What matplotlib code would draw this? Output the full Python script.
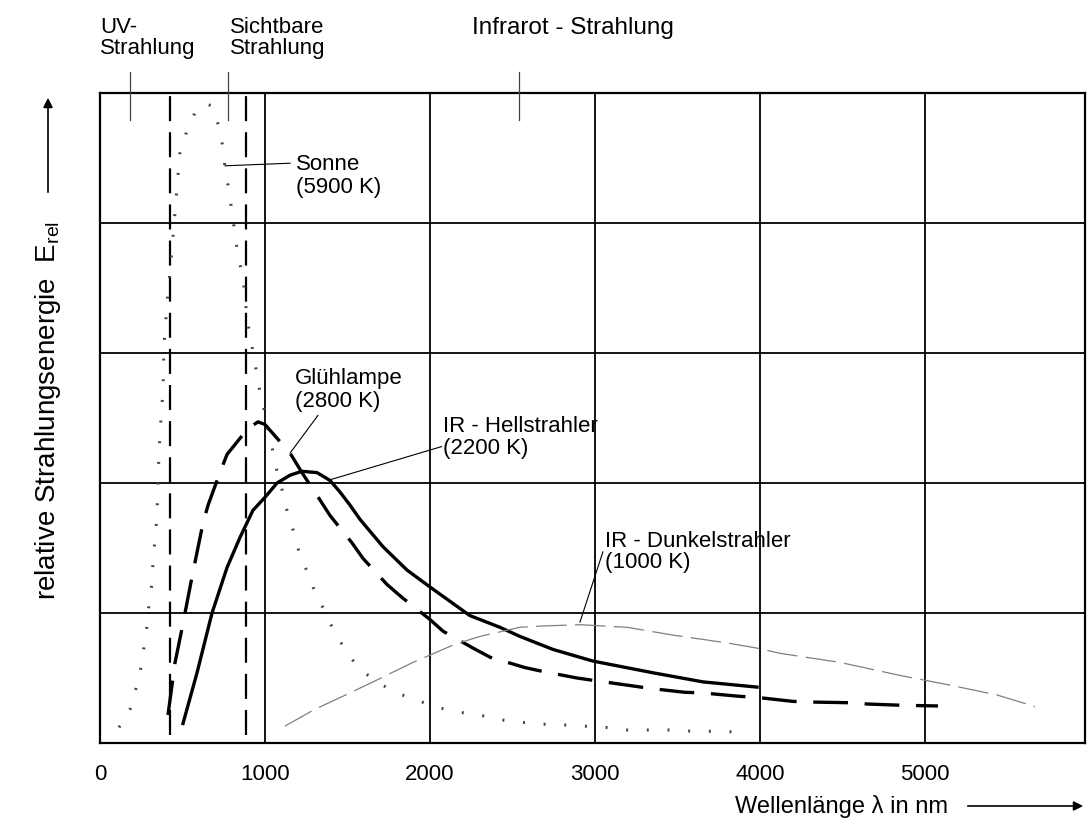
import matplotlib
matplotlib.use("Agg")
import matplotlib.pyplot as plt

plt.rcParams['font.family'] = ['Liberation Sans', 'DejaVu Sans']
plt.rcParams['mathtext.fontset'] = 'custom'
plt.rcParams['mathtext.rm'] = 'Liberation Sans'
plt.rcParams['lines.scale_dashes'] = False

# ---- data (wavelength in nm, relative energy) ----
sonne_x = [115, 182, 218, 248, 267, 285, 297, 315, 321, 333, 345, 352, 364, 382, 388, 406, 436, 473, 485, 527,
           576, 636, 679, 721, 745, 758, 782, 800, 818, 836, 867, 891, 915, 939, 958, 988, 1042, 1067, 1103, 1133,
           1170, 1206, 1255, 1303, 1364, 1418, 1485, 1564, 1667, 1788, 1897, 2030, 2152, 2285, 2418, 2545, 2679,
           2800, 2933, 3067, 3194, 3327, 3461, 3594, 3727, 3850]
sonne_y = [0.12, 0.26, 0.42, 0.58, 0.74, 0.90, 1.07, 1.23, 1.39, 1.57, 1.73, 2.06, 2.39, 2.72, 3.06, 3.38, 3.79,
           4.37, 4.55, 4.71, 4.85, 4.92, 4.90, 4.74, 4.58, 4.42, 4.25, 4.08, 3.92, 3.75, 3.58, 3.27, 3.09, 2.93,
           2.77, 2.60, 2.28, 2.12, 1.95, 1.79, 1.64, 1.47, 1.32, 1.16, 1.01, 0.86, 0.72, 0.58, 0.48, 0.39, 0.34,
           0.28, 0.24, 0.22, 0.18, 0.16, 0.145, 0.14, 0.13, 0.12, 0.10, 0.10, 0.10, 0.09, 0.09, 0.085]

gluehlampe_x = [412, 455, 497, 558, 624, 655, 727, 770, 897, 958, 1000, 1152, 1224, 1333, 1394, 1527, 1594, 1739,
                1830, 2000, 2079, 2261, 2364, 2576, 2685, 2891, 3000, 3224, 3333, 3545, 3655, 3867, 3988, 4200,
                4315, 4533, 4648, 4861, 5079]
gluehlampe_y = [0.215, 0.62, 0.88, 1.28, 1.69, 1.83, 2.08, 2.22, 2.42, 2.47, 2.45, 2.23, 2.08, 1.87, 1.75, 1.54,
                1.42, 1.22, 1.12, 0.95, 0.86, 0.73, 0.66, 0.58, 0.55, 0.50, 0.48, 0.44, 0.42, 0.39, 0.385, 0.36,
                0.35, 0.32, 0.315, 0.31, 0.30, 0.29, 0.285]

hell_x = [503, 588, 679, 770, 848, 927, 1000, 1073, 1152, 1224, 1315, 1394, 1455, 1515, 1576, 1715, 1861, 2000,
          2242, 2424, 2545, 2745, 2988, 3352, 3655, 3982]
hell_y = [0.15, 0.54, 1.00, 1.35, 1.58, 1.79, 1.89, 2.00, 2.06, 2.09, 2.08, 2.02, 1.93, 1.83, 1.72, 1.51, 1.33,
          1.20, 0.98, 0.89, 0.82, 0.72, 0.63, 0.54, 0.47, 0.43]

dunkel_x = [1121, 1303, 1473, 1655, 1897, 2152, 2303, 2545, 2679, 2909, 3194, 3473, 3800, 3982, 4121, 4485,
            4848, 5133, 5436, 5667]
dunkel_y = [0.13, 0.26, 0.36, 0.47, 0.62, 0.76, 0.82, 0.89, 0.90, 0.91, 0.89, 0.83, 0.77, 0.73, 0.69, 0.62,
            0.52, 0.45, 0.37, 0.28]

band_boundaries = [424, 885]          # UV | visible | IR
band_marks = [182, 776, 2539]         # short marks at the top edge
x_ticks = [0, 1000, 2000, 3000, 4000, 5000]
x_ticklabels = ["0", "1000", "2000", "3000", "4000", "5000"]
y_grid = [1, 2, 3, 4]

W, H = 1088, 819
fig = plt.figure(figsize=(W / 100, H / 100), dpi=100)
ax = fig.add_axes([100 / W, 1 - 743 / H, 985 / W, 650 / H])
ax.set_xlim(0, 5970)
ax.set_ylim(0, 5)

FS = 16

# grid
for gx in x_ticks[1:]:
    ax.axvline(gx, color='black', lw=1.3, zorder=1)
for gy in y_grid:
    ax.axhline(gy, color='black', lw=1.3, zorder=1)
for s in ax.spines.values():
    s.set_linewidth(1.6)

# band boundaries (dashed verticals)
for bx in band_boundaries:
    ax.plot([bx, bx], [0.06, 5], color='black', lw=1.6, dashes=(18, 8), zorder=3)
# top marks
for mx in band_marks:
    ax.plot([mx, mx], [4.79, 5.16], color='#444444', lw=0.9, clip_on=False, zorder=3)

# curves
ax.plot(sonne_x, sonne_y, color='#444444', lw=2.2, dashes=(1.4, 13.5), dash_capstyle='butt', zorder=4)
ax.plot(gluehlampe_x, gluehlampe_y, color='black', lw=2.4, dashes=(25, 12), zorder=4)
ax.plot(hell_x, hell_y, color='black', lw=2.4, solid_joinstyle='round', zorder=4)
ax.plot(dunkel_x, dunkel_y, color='#808080', lw=0.9, dashes=(22, 6), zorder=4)

# annotations
ax.plot([758, 1152], [4.44, 4.46], color='black', lw=0.8, zorder=5)
ax.text(1188, 4.36, "Sonne\n(5900 K)", fontsize=FS, ha='left', va='center', linespacing=1.1)
ax.plot([1321, 1152], [2.52, 2.23], color='black', lw=0.8, zorder=5)
ax.text(1182, 2.715, "Glühlampe\n(2800 K)", fontsize=FS, ha='left', va='center', linespacing=1.1)
ax.plot([2070, 1382], [2.28, 2.02], color='black', lw=0.8, zorder=5)
ax.text(2079, 2.35, "IR - Hellstrahler\n(2200 K)", fontsize=FS, ha='left', va='center', linespacing=1.1)
ax.plot([3048, 2909], [1.47, 0.93], color='black', lw=0.8, zorder=5)
ax.text(3061, 1.47, "IR - Dunkelstrahler\n(1000 K)", fontsize=FS, ha='left', va='center', linespacing=1.0)

# ticks
ax.set_xticks(x_ticks)
ax.set_xticklabels(x_ticklabels, fontsize=FS)
ax.set_yticks([])
ax.tick_params(axis='x', length=0, pad=15)

# band labels at the top
def fx(px):
    return px / W
def fy(py):
    return 1 - py / H

fig.text(fx(100), fy(38), "UV-\nStrahlung", fontsize=FS, ha='left', va='center', linespacing=1.05)
fig.text(fx(230), fy(38), "Sichtbare\nStrahlung", fontsize=FS, ha='left', va='center', linespacing=1.05)
fig.text(fx(472), fy(28), "Infrarot - Strahlung", fontsize=17.5, ha='left', va='center')

# axis titles with arrows
fig.text(fx(48), fy(410), r"relative Strahlungsenergie  E$_{\mathrm{rel}}$", fontsize=20,
         rotation=90, ha='center', va='center')
fig.add_artist(matplotlib.patches.FancyArrowPatch((fx(48), fy(195)), (fx(48), fy(95)),
               transform=fig.transFigure, arrowstyle='-|>', mutation_scale=14, lw=1.2, color='black'))
fig.text(fx(735), fy(806), "Wellenlänge λ in nm", fontsize=17, ha='left', va='center')
fig.add_artist(matplotlib.patches.FancyArrowPatch((fx(965), fy(806)), (fx(1086), fy(806)),
               transform=fig.transFigure, arrowstyle='-|>', mutation_scale=14, lw=1.2, color='black'))

fig.savefig("out.png", dpi=100)
